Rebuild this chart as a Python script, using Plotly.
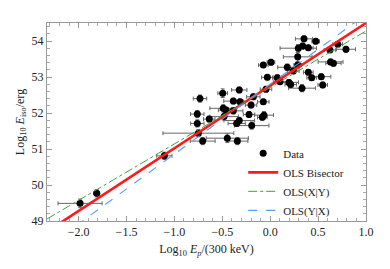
import numpy as np
import plotly.graph_objects as go

# Data points (log10 Ep/300keV, log10 Eiso/erg) with errors
x_vals = [0.353, 0.475, 0.293, 0.339, 0.398, 0.791, 0.624, 0.705, 0.287, 0.630, 0.660,
          0.008, -0.072, 0.178, 0.287, 0.241, 0.398, -0.030, 0.074, 0.433, 0.533,
          0.102, 0.196, 0.214, 0.548, 0.332, -0.044, -0.323, -0.733, -0.496, -0.176,
          -0.385, -0.315, -0.072, -0.200, -0.490, -0.461, -0.385, -0.761, -0.221,
          -0.065, -0.082, -0.482, -0.636, -0.323, -0.761, -0.350, -0.193, -0.448,
          -0.705, -0.343, -0.750, -1.105, -1.811, -1.985]
y_vals = [54.06, 53.99, 53.80, 53.86, 53.81, 53.77, 53.75, 53.91, 53.56, 53.42, 53.38,
          53.41, 53.33, 53.27, 53.33, 53.17, 53.13, 52.99, 52.98, 52.98, 53.01,
          52.87, 52.85, 52.79, 52.78, 52.69, 52.66, 52.64, 52.40, 52.55, 52.45,
          52.33, 52.31, 52.31, 52.22, 52.13, 52.08, 52.06, 51.97, 51.96,
          51.94, 51.88, 51.90, 51.83, 51.79, 51.71, 51.71, 51.65, 51.30,
          51.22, 51.22, 51.44, 50.81, 49.77, 49.49]
x_err = [0.09, 0.04, 0.19, 0.06, 0.05, 0.10, 0.06, 0.05, 0.15, 0.13, 0.08,
         0.04, 0.05, 0.10, 0.04, 0.06, 0.05, 0.06, 0.05, 0.05, 0.10,
         0.07, 0.10, 0.06, 0.05, 0.14, 0.06, 0.08, 0.07, 0.05, 0.07,
         0.10, 0.04, 0.06, 0.06, 0.14, 0.08, 0.10, 0.07, 0.06,
         0.10, 0.05, 0.15, 0.06, 0.16, 0.07, 0.09, 0.18, 0.22,
         0.13, 0.11, 0.37, 0.08, 0.03, 0.23]
y_err = [0.08, 0.07, 0.10, 0.08, 0.07, 0.08, 0.07, 0.07, 0.12, 0.08, 0.08,
         0.08, 0.07, 0.09, 0.08, 0.08, 0.07, 0.07, 0.08, 0.07, 0.08,
         0.08, 0.08, 0.07, 0.08, 0.10, 0.08, 0.08, 0.10, 0.12, 0.08,
         0.08, 0.08, 0.07, 0.08, 0.10, 0.08, 0.09, 0.10, 0.08,
         0.10, 0.08, 0.10, 0.08, 0.09, 0.10, 0.08, 0.10, 0.12,
         0.10, 0.10, 0.10, 0.10, 0.10, 0.12]

# Fit lines: (name, slope, intercept)
fit_names = ["OLS Bisector", "OLS(X|Y)", "OLS(Y|X)"]
fit_slopes = [1.74, 1.568, 1.94]
fit_intercepts = [52.76, 52.71, 52.80]

x_range = [-2.33, 1.0]
y_range = [49.0, 54.5]

font = "Liberation Serif"
fig = go.Figure()

fig.add_trace(go.Scatter(
    x=x_vals, y=y_vals, mode="markers", name="Data",
    marker=dict(color="black", size=7),
    error_x=dict(type="data", array=x_err, color="#666666", thickness=1, width=2),
    error_y=dict(type="data", array=y_err, color="#666666", thickness=1, width=2),
))

styles = [dict(color="#ff1a1a", width=2.6, dash="solid"),
          dict(color="#44a044", width=1, dash="dashdot"),
          dict(color="#5b9bf5", width=1.1, dash="dash")]
xl = np.linspace(x_range[0], x_range[1], 200)
for name, s, b, st in zip(fit_names, fit_slopes, fit_intercepts, styles):
    fig.add_trace(go.Scatter(x=xl, y=s * xl + b, mode="lines", name=name, line=st))

axis_common = dict(
    showline=True, linecolor="#999999", linewidth=1, mirror="allticks",
    ticks="inside", ticklen=5, tickcolor="#999999",
    showgrid=False, zeroline=False, automargin=False,
    tickfont=dict(family=font, size=12, color="#222222"),
    minor=dict(ticks="inside", ticklen=3, tickcolor="#aaaaaa"),
)

fig.update_xaxes(range=x_range, tickvals=[-2.0, -1.5, -1.0, -0.5, 0.0, 0.5, 1.0],
                 tickformat=".1f", minor_dtick=0.1,
                 title=dict(text="Log<sub>10</sub> <i>E</i><sub><i>p</i></sub>/(300 keV)",
                            font=dict(family=font, size=12, color="#222222"), standoff=6),
                 **axis_common)
fig.update_yaxes(range=y_range, tickvals=[49, 50, 51, 52, 53, 54], minor_dtick=0.2,
                 title=dict(text="Log<sub>10</sub> <i>E</i><sub>iso</sub>/erg",
                            font=dict(family=font, size=12, color="#222222"), standoff=4),
                 **axis_common)

# page body has an 8px default margin, so the figure is sized to fit the window
fig.update_layout(
    width=382, height=261,
    margin=dict(l=39, r=24, t=15, b=48),
    paper_bgcolor="white", plot_bgcolor="white",
    font=dict(family=font, size=12, color="#222222"),
    legend=dict(x=0.615, y=0.415, xanchor="left", yanchor="top",
                bgcolor="rgba(0,0,0,0)", font=dict(family=font, size=11),
                tracegroupgap=0, itemwidth=30),
    showlegend=True,
)

fig.write_html("out.html")
